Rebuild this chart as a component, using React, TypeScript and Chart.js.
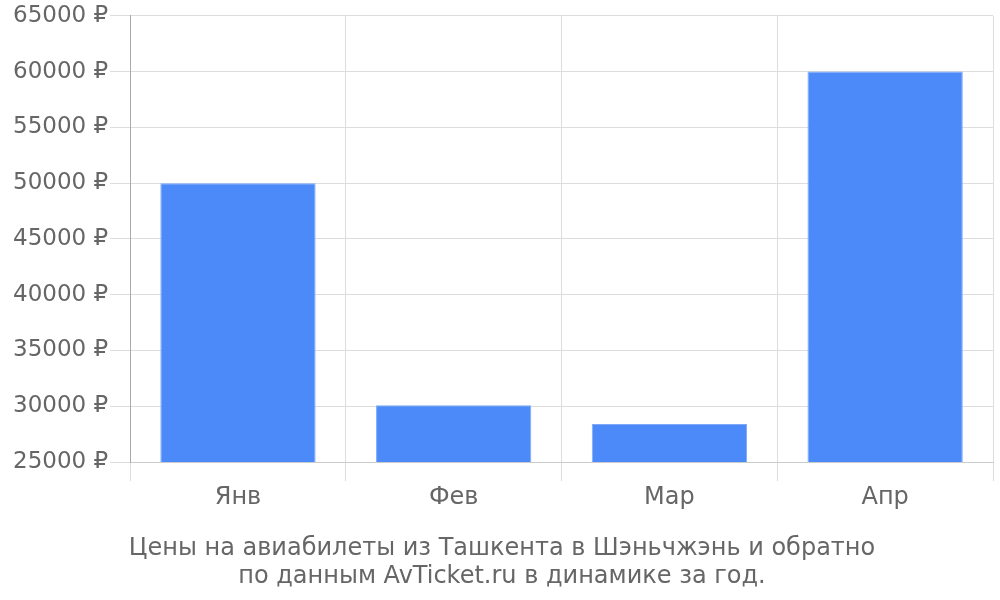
import React, { useEffect, useRef } from "react";
import { Chart, registerables } from "chart.js";

Chart.register(...registerables);

const categories = ["Янв", "Фев", "Мар", "Апр"];
const prices = [50000, 30100, 28420, 60000];
const yMin = 25000;
const yMax = 65000;
const yStep = 5000;
const titleLines = [
  "Цены на авиабилеты из Ташкента в Шэньчжэнь и обратно",
  "по данным AvTicket.ru в динамике за год.",
];

export default function App() {
  const ref = useRef<HTMLCanvasElement>(null);
  useEffect(() => {
    document.body.style.margin = "0";
    const ctx = ref.current!;
    const chart = new Chart(ctx, {
      type: "bar",
      data: {
        labels: categories,
        datasets: [
          {
            data: prices,
            backgroundColor: "#4d8af9",
            borderColor: "#7ea9fb",
            borderWidth: 1,
          },
        ],
      },
      options: {
        animation: false,
        responsive: false,
        maintainAspectRatio: false,
        layout: { padding: { left: 11, right: 7, top: 2, bottom: 9 } },
        plugins: {
          legend: { display: false },
          tooltip: { enabled: false },
          title: {
            display: true,
            position: "bottom",
            text: titleLines,
            color: "#666",
            font: { family: "DejaVu Sans", size: 24, weight: "normal", lineHeight: 1.17 },
            padding: { top: 21, bottom: 0 },
          },
        },
        scales: {
          x: {
            grid: { color: "#ddd", tickLength: 19, offset: true },
            border: { color: "#ccc" },
            ticks: { color: "#666", font: { family: "DejaVu Sans", size: 24 }, padding: 2 },
          },
          y: {
            min: yMin,
            max: yMax,
            grid: { color: "#ddd", tickLength: 20 },
            border: { color: "#aaa" },
            ticks: {
              stepSize: yStep,
              color: "#666",
              font: { family: "DejaVu Sans", size: 23 },
              padding: 2,
              callback: (v) => `${v} ₽`,
            },
          },
        },
      },
    });
    return () => chart.destroy();
  }, []);
  return (
    <div style={{ width: 1000, height: 600 }}>
      <canvas ref={ref} width={1000} height={600} style={{ width: 1000, height: 600 }} />
    </div>
  );
}
